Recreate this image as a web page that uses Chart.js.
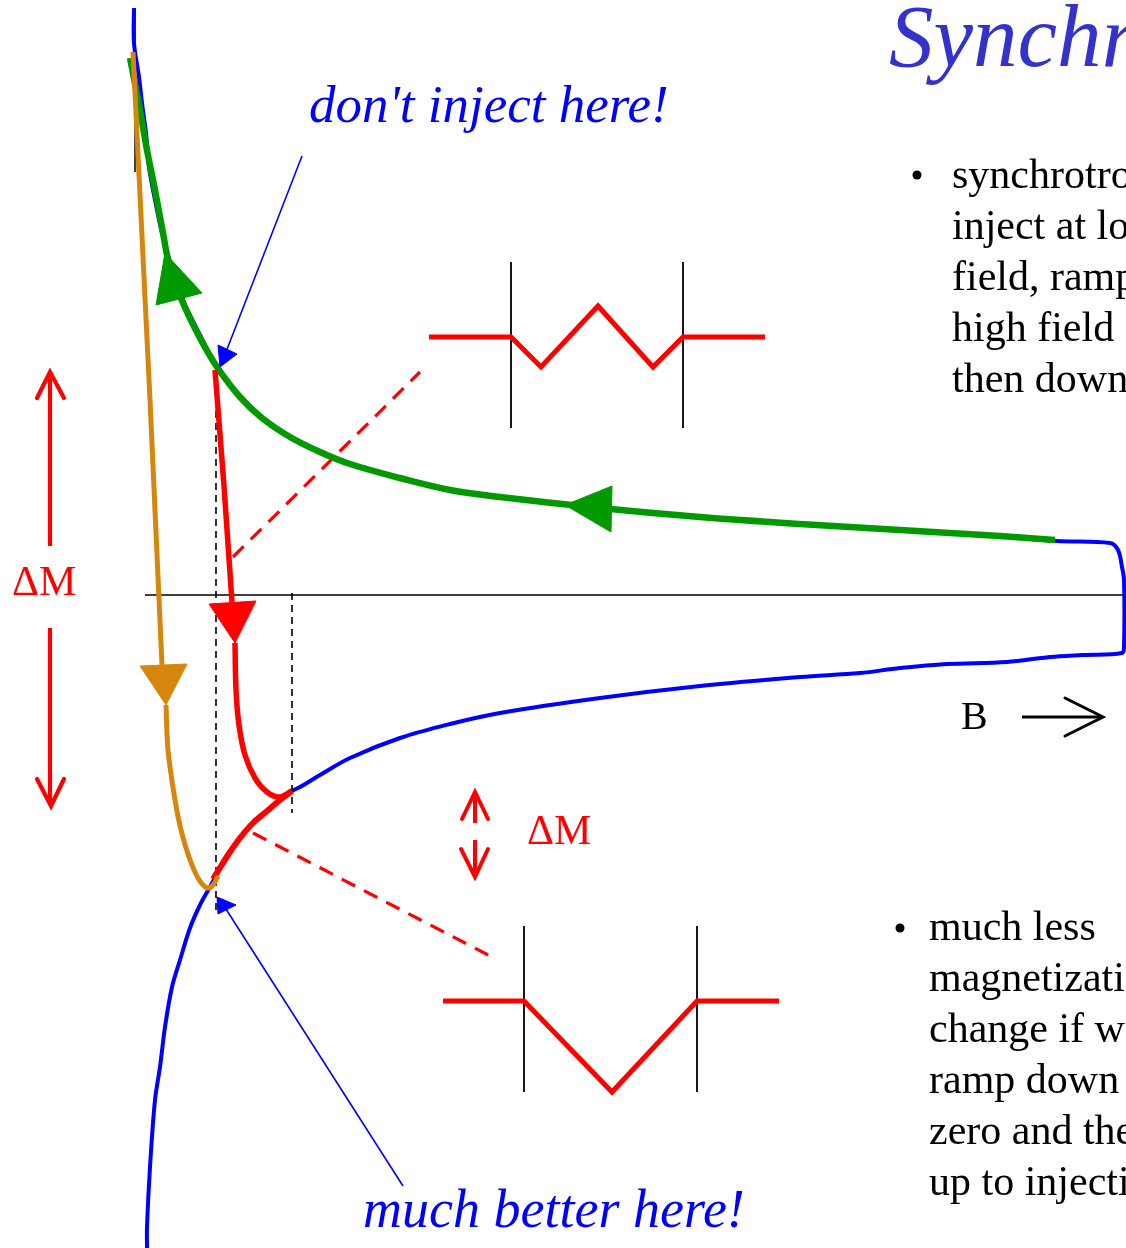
<!DOCTYPE html>
<html>
<head>
<meta charset="utf-8">
<script src="https://cdn.jsdelivr.net/npm/chart.js@4/dist/chart.umd.min.js"></script>
<style>
  html, body { margin: 0; padding: 0; background: #ffffff; }
  #wrap { width: 1126px; height: 1248px; position: relative; }
  canvas { display: block; }
</style>
</head>
<body>
<div id="wrap"><canvas id="c" width="1126" height="1248"></canvas></div>
<script>
// Measured hysteresis loop of the magnet: field B (x) against magnetization M (y, downwards)
const hystB = [134, 134, 139, 142, 146, 149, 155, 162, 171, 183, 200, 217, 240, 262, 290, 320, 350, 400, 450, 500, 600, 700, 800, 900, 1000, 1057, 1110, 1118, 1122, 1124, 1124, 1122, 1083, 1050, 1007, 947, 900, 860, 800, 700, 600, 500, 450, 400, 350, 320, 300, 292, 280, 267, 253, 240, 228, 218, 210, 200, 190, 180, 172, 165, 160, 155, 150, 147, 147];
const hystM = [8, 43, 77, 103, 133, 167, 200, 233, 265, 300, 335, 367, 397, 418, 437, 452, 464, 478, 490, 497, 508, 517, 524, 530, 536, 541, 543, 550, 567, 580, 647, 653, 655, 657, 662, 664, 668, 673, 677, 686, 698, 713, 724, 738, 758, 775, 787, 791, 800, 811, 823, 838, 855, 872, 887, 905, 928, 960, 987, 1027, 1067, 1100, 1167, 1227, 1248];

// Ramp down from high field (green)
const rampDownB = [1055, 1000, 900, 800, 700, 600, 500, 450, 400, 350, 320, 290, 262, 240, 217, 200, 183, 170, 163, 155, 147, 140, 130];
const rampDownM = [540, 536, 530, 524, 517, 508, 497, 490, 478, 464, 452, 437, 418, 397, 367, 338, 303, 268, 233, 190, 150, 110, 58];

// Injection straight after ramp down (red)
const injectB = [215, 224, 232];
const injectM = [370, 486, 602];
const driftB = [235, 236, 239, 245, 255, 267, 279, 292];
const driftM = [643, 690, 725, 755, 778, 792, 797, 791];
const rampUpB = [292, 280, 267, 253, 240, 228, 218, 213];
const rampUpM = [791, 800, 811, 823, 838, 855, 871, 879];

// Ramp to zero then back up to injection (orange)
const resetB = [133, 150, 162];
const resetM = [52, 400, 665];
const returnB = [166, 168, 175, 181, 189, 198, 207, 213, 218];
const returnM = [705, 750, 800, 830, 857, 878, 888, 885, 876];

// Field cycle sketches
const cycleAB = [429, 511, 541, 598, 653, 683, 765];
const cycleAM = [337, 337, 367, 306, 367, 337, 337];
const cycleBB = [443, 524, 612, 697, 779];
const cycleBM = [1001, 1001, 1092, 1001, 1001];

const titleText = 'Synchrotron injection';
const bulletOne = ['synchrotrons', 'inject at low', 'field, ramp to', 'high field and', 'then down again'];
const bulletTwo = ['much less', 'magnetization', 'change if we', 'ramp down to', 'zero and then', 'up to injection'];

function pts(xs, ys) { return xs.map((x, i) => ({ x: x, y: ys[i] })); }

const RED = '#ff0000', GREEN = '#009a00', BLUE = '#0000ff', ORANGE = '#d6860c', BLACK = '#000000';

function curve(xs, ys, color, width, order, extra) {
  return Object.assign({
    data: pts(xs, ys), showLine: true, borderColor: color, borderWidth: width,
    pointRadius: 0, pointHoverRadius: 0, tension: 0.35, fill: false, order: order,
    borderCapStyle: 'butt', borderJoinStyle: 'round'
  }, extra || {});
}
function poly(xs, ys, color, width, order, extra) {
  return curve(xs, ys, color, width, order, Object.assign({ tension: 0, borderJoinStyle: 'miter' }, extra || {}));
}
function head(xs, ys, color, order) {
  return {
    data: pts(xs.concat([xs[0]]), ys.concat([ys[0]])), showLine: true, borderColor: color,
    backgroundColor: color, borderWidth: 1, pointRadius: 0, tension: 0, fill: 'shape', order: order
  };
}

const datasets = [
  // arrowheads on top
  head([165, 156, 202], [253, 305, 293], GREEN, 1),
  head([565, 612, 611], [505, 486, 532], GREEN, 1),
  head([235, 209, 256], [643, 604, 601], RED, 1),
  head([166, 140, 187], [705, 666, 664], ORANGE, 1),
  head([220, 218, 237], [367, 345, 354], BLUE, 1),
  head([217, 218, 236], [897, 914, 905], BLUE, 1),
  // pointer lines
  poly([302, 224], [156, 357], BLUE, 1.6, 2),
  poly([403, 224], [1186, 906], BLUE, 1.6, 2),
  // curves
  curve(resetB, resetM, ORANGE, 5, 3, { tension: 0 }),
  curve(returnB, returnM, ORANGE, 5, 3),
  curve(injectB, injectM, RED, 5.5, 4, { tension: 0 }),
  curve(driftB, driftM, RED, 5.5, 4),
  curve(rampUpB, rampUpM, RED, 6, 4),
  curve(rampDownB, rampDownM, GREEN, 6.5, 5),
  curve(hystB, hystM, BLUE, 4, 9),
  // dashed guides
  poly([216, 216], [375, 915], BLACK, 1.6, 6, { borderDash: [7, 5] }),
  poly([292, 292], [593, 813], BLACK, 1.6, 6, { borderDash: [7, 5] }),
  poly([233, 420], [557, 372], RED, 3.2, 6, { borderDash: [15, 10] }),
  poly([253, 492], [833, 957], RED, 3.2, 6, { borderDash: [15, 10] }),
  // axis line and top marker
  poly([145, 1126], [595, 595], BLACK, 1.5, 10),
  poly([135, 135], [8, 172], BLACK, 1.5, 10),
  // field cycle sketches
  poly(cycleAB, cycleAM, RED, 5, 7),
  poly([511, 511], [262, 428], BLACK, 1.8, 8),
  poly([683, 683], [262, 428], BLACK, 1.8, 8),
  poly(cycleBB, cycleBM, RED, 5, 7),
  poly([524, 524], [926, 1092], BLACK, 1.8, 8),
  poly([697, 697], [926, 1092], BLACK, 1.8, 8),
  // ΔM arrows (left)
  poly([50, 50], [546, 374], RED, 4.2, 7),
  poly([37, 50, 64], [398, 372, 398], RED, 4.2, 7, { borderCapStyle: 'round' }),
  poly([50, 50], [628, 804], RED, 4.2, 7),
  poly([37, 51, 64], [779, 806, 779], RED, 4.2, 7, { borderCapStyle: 'round' }),
  // ΔM arrows (middle)
  poly([475, 475], [823, 794], RED, 4, 7),
  poly([462, 475, 488], [819, 792, 819], RED, 4, 7, { borderCapStyle: 'round' }),
  poly([475, 475], [840, 875], RED, 4, 7),
  poly([461, 475, 488], [849, 877, 849], RED, 4, 7, { borderCapStyle: 'round' }),
  // B arrow
  poly([1022, 1101], [717, 717], BLACK, 3, 7),
  poly([1065, 1103, 1065], [698, 717, 736], BLACK, 3, 7, { borderCapStyle: 'round' })
];

// Text labels placed in the same B / M coordinates
const labels = [
  { text: titleText, x: 889, y: 66, font: 'italic 89px "Liberation Serif"', color: '#3333cc' },
  { text: "don't inject here!", x: 309, y: 122, font: 'italic 53px "Liberation Serif"', color: BLUE },
  { text: 'much better here!', x: 363, y: 1227, font: 'italic 54px "Liberation Serif"', color: BLUE },
  { text: 'ΔM', x: 12, y: 595, font: '42px "Liberation Serif"', color: RED },
  { text: 'ΔM', x: 527, y: 844, font: '42px "Liberation Serif"', color: RED },
  { text: 'B', x: 961, y: 729, font: '40px "Liberation Serif"', color: BLACK }
];
const bullets = [
  { lines: bulletOne, x: 952, bx: 917, y: 188, by: 175 },
  { lines: bulletTwo, x: 929, bx: 900, y: 940, by: 928 }
];

const textPlugin = {
  id: 'slideText',
  afterDatasetsDraw(chart) {
    const ctx = chart.ctx, sx = chart.scales.x, sy = chart.scales.y;
    ctx.save();
    ctx.textBaseline = 'alphabetic';
    ctx.textAlign = 'left';
    labels.forEach(l => {
      ctx.font = l.font; ctx.fillStyle = l.color;
      ctx.fillText(l.text, sx.getPixelForValue(l.x), sy.getPixelForValue(l.y));
    });
    ctx.font = '42px "Liberation Serif"';
    ctx.fillStyle = BLACK;
    bullets.forEach(b => {
      ctx.beginPath();
      ctx.arc(sx.getPixelForValue(b.bx), sy.getPixelForValue(b.by), 4.5, 0, Math.PI * 2);
      ctx.fill();
      b.lines.forEach((t, i) => {
        ctx.fillText(t, sx.getPixelForValue(b.x), sy.getPixelForValue(b.y + i * 51));
      });
    });
    ctx.restore();
  }
};

new Chart(document.getElementById('c'), {
  type: 'scatter',
  data: { datasets: datasets },
  options: {
    responsive: false,
    animation: false,
    devicePixelRatio: 1,
    layout: { padding: 0 },
    plugins: { legend: { display: false }, tooltip: { enabled: false } },
    events: [],
    scales: {
      x: { type: 'linear', min: 0, max: 1126, display: false },
      y: { type: 'linear', min: 0, max: 1248, reverse: true, display: false }
    }
  },
  plugins: [textPlugin]
});
</script>
</body>
</html>
